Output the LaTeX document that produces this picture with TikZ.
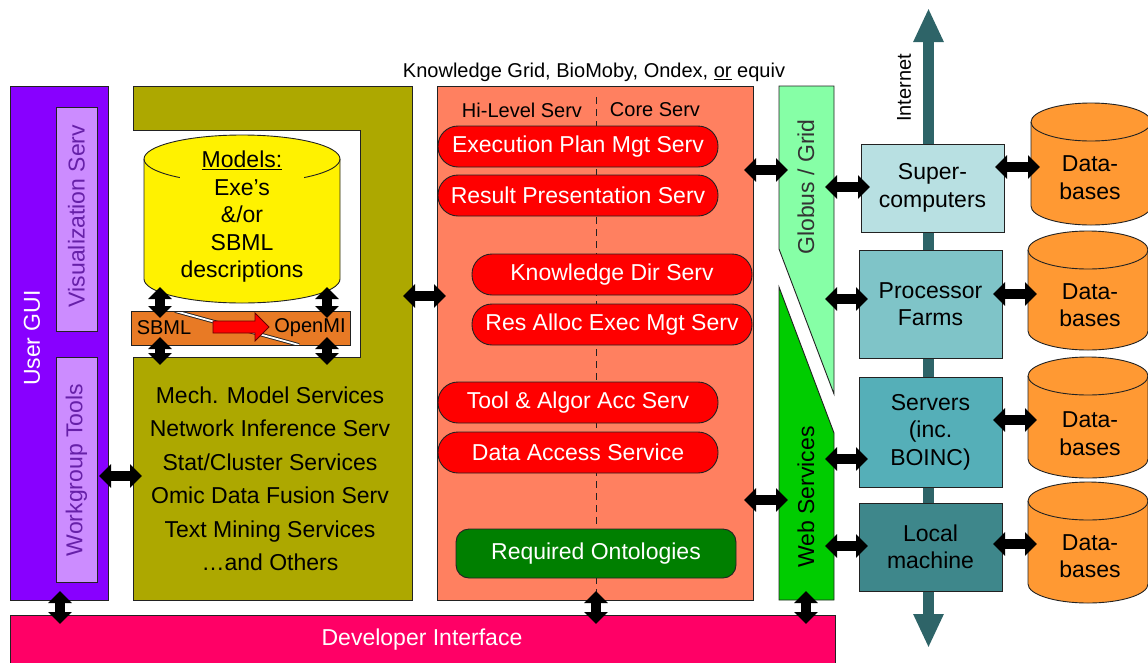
\documentclass[tikz,border=0pt]{standalone}
\usepackage{fontspec}
\setmainfont{Liberation Sans}
\usetikzlibrary{arrows.meta}
\definecolor{guipurple}{HTML}{8800FF}
\definecolor{lilac}{HTML}{CC8CFF}
\definecolor{lilactext}{HTML}{6620A8}
\definecolor{olivebox}{HTML}{ADA800}
\definecolor{salmon}{HTML}{FF8060}
\definecolor{pillred}{HTML}{FF0000}
\definecolor{ontogreen}{HTML}{007F00}
\definecolor{globusgreen}{HTML}{86FFA6}
\definecolor{webgreen}{HTML}{00CC00}
\definecolor{devpink}{HTML}{FF0066}
\definecolor{barorange}{HTML}{E87A25}
\definecolor{dborange}{HTML}{FF9933}
\definecolor{tealA}{HTML}{B8E0E2}
\definecolor{tealB}{HTML}{7FC4C8}
\definecolor{tealC}{HTML}{55AFB8}
\definecolor{tealD}{HTML}{3E878B}
\definecolor{inetteal}{HTML}{2E6468}
\definecolor{linegray}{HTML}{222222}
\newcommand{\dbcyl}[4]{%
  \pgfmathsetmacro{\dbA}{#3+19}\pgfmathsetmacro{\dbB}{#4-19}\pgfmathsetmacro{\dbR}{#2+120}%
  \pgfmathsetmacro{\dbCx}{#2+60}\pgfmathsetmacro{\dbCy}{(#3+#4)/2}\pgfmathsetmacro{\dbH}{#4-#3}%
  \path[box, fill=dborange] (#2,\dbA) -- (#2,\dbB) arc (180:0:60 and 19) -- (\dbR,\dbA) arc (0:-180:60 and 19) -- cycle;
  \draw[box] (#2,\dbA) arc (180:0:60 and 19);
  \node[minimum width=120pt, minimum height=\dbH pt] (#1) at (\dbCx,\dbCy) {};
}
\begin{document}
\begin{tikzpicture}[x=1pt,y=-1pt,
  every node/.style={font=\fontsize{23}{27.5}\selectfont, inner sep=0pt, outer sep=0pt, align=center},
  box/.style={draw=linegray, line width=0.9pt},
  pill/.style={box, fill=pillred, text=white, rounded corners=20pt, minimum width=280pt, minimum height=41pt},
  dbl/.style={draw=black, line width=10pt, {Triangle[length=12pt,width=23pt]}-{Triangle[length=12pt,width=23pt]}, shorten <=-9pt, shorten >=-9pt},
  inetarrow/.style={draw=inetteal, line width=10.5pt, {Triangle[length=34pt,width=28pt]}-{Triangle[length=34pt,width=28pt]}},
  small/.style={font=\fontsize{20}{24}\selectfont},
  vtext/.style={rotate=90}
]
\useasboundingbox (0,0) rectangle (1148,662);

% Internet backbone
\coordinate (inetTop) at (928.5,8);
\coordinate (inetBot) at (928.5,648);
\draw[inetarrow] (inetBot) -- (inetTop);
\node[small, vtext] (inettxt) at (904,88) {Internet};

% User GUI
\node[box, fill=guipurple, minimum width=98pt, minimum height=514pt] (gui) at (59,343) {};
\node[vtext, text=white] (guitxt) at (32,338) {User GUI};
\node[box, fill=lilac, minimum width=41pt, minimum height=224pt] (vis) at (76.5,219) {};
\node[vtext, text=lilactext] (vistxt) at (76.5,216) {Visualization Serv};
\node[box, fill=lilac, minimum width=41pt, minimum height=225pt] (work) at (76.5,469.5) {};
\node[vtext, text=lilactext] (worktxt) at (76.5,470) {Workgroup Tools};

% olive block
\path[box, fill=olivebox] (133,86) -- (412,86) -- (412,600) -- (133,600) -- (133,357) -- (360,357) -- (360,130) -- (133,130) -- cycle;
\node[minimum width=279pt, minimum height=514pt] (olive) at (272.5,343) {};
\node[minimum width=279pt, minimum height=243pt] (olivelow) at (272.5,478.5) {};
\node[font=\fontsize{23}{33.5}\selectfont] (olivetxt) at (270,479)
  {Mech. Model Services\\Network Inference Serv\\Stat/Cluster Services\\Omic Data Fusion Serv\\Text Mining Services\\…and Others};

% models cylinder
\path[box, fill=yellow] (144,159) -- (144,279) arc (180:0:98 and 24) -- (340,159) arc (0:-180:98 and 24) -- cycle;
\draw[box] (144,159) arc (180:0:98 and 24);
\node[minimum width=196pt, minimum height=168pt] (models) at (242,219) {};
\node[fill=yellow, inner sep=1pt] (modelstxt) at (242,217) {\underline{Models:}\\Exe’s\\\&/or\\SBML\\descriptions};

% SBML -> OpenMI bar
\node[box, fill=barorange, minimum width=219pt, minimum height=34pt] (bar) at (240.5,328) {};
\begin{scope}
  \clip (131,311) rectangle (350,345);
  \draw[linegray, line width=3.6pt] (175,311) -- (299,345);
  \draw[white, line width=1.8pt] (175,311) -- (299,345);
\end{scope}
\draw[box] (bar.north west) rectangle (bar.south east);
\path[draw=black!60!red, fill=pillred, line width=0.8pt] (213,321) -- (255,321) -- (255,313) -- (269,327) -- (255,341) -- (255,333) -- (213,333) -- cycle;
\draw[dbl, shorten <=-16pt, shorten >=-7pt] (models.south -| 160,0) -- (bar.north -| 160,0);
\draw[dbl, shorten <=-16pt, shorten >=-7pt] (models.south -| 327,0) -- (bar.north -| 327,0);
\draw[dbl, shorten <=-8pt, shorten >=-8pt] (bar.south -| 160,0) -- (olivelow.north -| 160,0);
\draw[dbl, shorten <=-8pt, shorten >=-8pt] (bar.south -| 327,0) -- (olivelow.north -| 327,0);
\node[small] (sbmltxt) at (164,328) {SBML};
\node[small] (openmitxt) at (310,328) {OpenMI};

% salmon services block
\node[small] (kgtitle) at (594,72) {Knowledge Grid, BioMoby, Ondex, \underline{or} equiv};
\node[box, fill=salmon, minimum width=316pt, minimum height=514pt] (salmon) at (595,343) {};
\draw[linegray, line width=0.9pt, dash pattern=on 7pt off 5pt] (596,97) -- (596,598);
\node[small, fill=salmon, inner xsep=3pt] (hilev) at (522,110) {Hi-Level Serv};
\node[small, fill=salmon, inner xsep=3pt] (core) at (655,110) {Core Serv};
\node[pill] (exec) at (578,146.5) {Execution Plan Mgt Serv};
\node[pill] (result) at (578,195.5) {Result Presentation Serv};
\node[pill] (kdir) at (612,274.5) {Knowledge Dir Serv};
\node[pill] (resalloc) at (612,324.5) {Res Alloc Exec Mgt Serv};
\node[pill] (tool) at (578,402.5) {Tool \& Algor Acc Serv};
\node[pill] (data) at (578,452.5) {Data Access Service};
\node[box, fill=ontogreen, text=white, rounded corners=13pt, minimum width=280pt, minimum height=49pt] (onto) at (596,553.5) {Required Ontologies};

% Globus / Web services
\path[box, fill=globusgreen] (779,86) -- (834,86) -- (834,394) -- (779,249) -- cycle;
\node[minimum width=55pt, minimum height=308pt] (globus) at (806.5,240) {};
\node[vtext, text=black!80] (globustxt) at (806,187) {Globus / Grid};
\path[box, fill=webgreen] (779,287) -- (834,433) -- (834,600) -- (779,600) -- cycle;
\node[minimum width=55pt, minimum height=313pt] (web) at (806.5,443.5) {};
\node[vtext] (webtxt) at (806,497) {Web Services};

% developer interface
\node[box, fill=devpink, minimum width=825pt, minimum height=60pt] (dev) at (422.5,645) {};
\node[text=white] (devtxt) at (422,640) {Developer Interface};

% compute resources
\node[box, fill=tealA, minimum width=143pt, minimum height=88pt] (super) at (932.5,188) {Super-\\computers};
\node[box, fill=tealB, minimum width=143pt, minimum height=108pt] (proc) at (930.5,304) {Processor\\Farms};
\node[box, fill=tealC, minimum width=143pt, minimum height=110pt] (serv) at (930.5,432) {Servers\\(inc.\\BOINC)};
\node[box, fill=tealD, minimum width=143pt, minimum height=88pt] (local) at (930.5,547) {Local\\machine};

% databases
\dbcyl{dbA}{1031}{103}{225}
\node (dbAtxt) at (1090,177.5) {Data-\\bases};
\dbcyl{dbB}{1028}{231}{350}
\node (dbBtxt) at (1090,305) {Data-\\bases};
\dbcyl{dbC}{1028}{357}{478}
\node (dbCtxt) at (1090,433.5) {Data-\\bases};
\dbcyl{dbD}{1028}{482}{603}
\node (dbDtxt) at (1090,556) {Data-\\bases};

% connectors
\draw[dbl] (gui.east |- 0,476) -- (olive.west |- 0,476);
\draw[dbl] (olive.east |- 0,296) -- (salmon.west |- 0,296);
\draw[dbl] (salmon.east |- 0,170) -- (globus.west |- 0,170);
\draw[dbl] (salmon.east |- 0,500) -- (web.west |- 0,500);
\draw[dbl] (globus.east |- 0,187) -- (super.west |- 0,187);
\draw[dbl] (globus.east |- 0,299) -- (proc.west |- 0,299);
\draw[dbl] (web.east |- 0,459) -- (serv.west |- 0,459);
\draw[dbl] (web.east |- 0,546) -- (local.west |- 0,546);
\draw[dbl] (super.east |- 0,167) -- (dbA.west |- 0,167);
\draw[dbl] (proc.east |- 0,294) -- (dbB.west |- 0,294);
\draw[dbl] (serv.east |- 0,420) -- (dbC.west |- 0,420);
\draw[dbl] (local.east |- 0,544) -- (dbD.west |- 0,544);
\draw[dbl] (gui.south -| 60,0) -- (dev.north -| 60,0);
\draw[dbl] (salmon.south -| 596,0) -- (dev.north -| 596,0);
\draw[dbl] (web.south -| 806,0) -- (dev.north -| 806,0);
\end{tikzpicture}
\end{document}
